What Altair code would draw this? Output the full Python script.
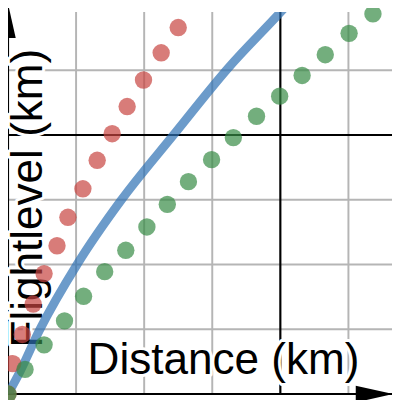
import altair as alt
import pandas as pd

# --- data (data units: 1 grid cell = 1 km) ---
red_x = [0.0, 0.07, 0.21, 0.37, 0.53, 0.72, 0.88, 1.10, 1.31, 1.53, 1.75, 1.99, 2.25, 2.50]
red_y = [0.0, 0.47, 0.92, 1.39, 1.86, 2.29, 2.73, 3.17, 3.61, 4.02, 4.44, 4.85, 5.27, 5.66]

green_x = [0.0, 0.25, 0.53, 0.83, 1.11, 1.42, 1.73, 2.04, 2.34, 2.65, 2.99, 3.31, 3.65, 3.99, 4.32, 4.66, 5.01, 5.36]
green_y = [0.0, 0.38, 0.76, 1.13, 1.51, 1.89, 2.22, 2.58, 2.93, 3.28, 3.62, 3.96, 4.29, 4.60, 4.92, 5.24, 5.57, 5.87]

blue_x = [0.0, 0.14, 0.46, 1.02, 1.66, 2.43, 3.23, 4.10, 4.30]
blue_y = [0.0, 0.27, 0.98, 2.01, 2.99, 4.00, 5.03, 6.01, 6.25]

x_minor = [1, 2, 3, 5]
x_major = [0, 4]
y_minor = [1, 2, 3, 5]
y_major = [0, 4]

x_title = "Distance (km)"
y_title = "Flightlevel (km)"

XS = alt.Scale(domain=[0, 5.64], nice=False, zero=False)
YS = alt.Scale(domain=[0, 5.9], nice=False, zero=False)
FONT = "Liberation Sans"

red = pd.DataFrame({"x": red_x, "y": red_y})
green = pd.DataFrame({"x": green_x, "y": green_y})
blue = pd.DataFrame({"x": blue_x, "y": blue_y, "o": list(range(len(blue_x)))})

xg_minor = alt.Chart(pd.DataFrame({"v": x_minor})).mark_rule(color="#b5b5b5", strokeWidth=2).encode(
    x=alt.X("v:Q", scale=XS, axis=None))
yg_minor = alt.Chart(pd.DataFrame({"v": y_minor})).mark_rule(color="#b5b5b5", strokeWidth=2).encode(
    y=alt.Y("v:Q", scale=YS, axis=None))
xg_major = alt.Chart(pd.DataFrame({"v": x_major})).mark_rule(color="black", strokeWidth=2.2).encode(
    x=alt.X("v:Q", scale=XS, axis=None))
yg_major = alt.Chart(pd.DataFrame({"v": y_major})).mark_rule(color="black", strokeWidth=2.2).encode(
    y=alt.Y("v:Q", scale=YS, axis=None))

def title_layers(txt, px, py, angle):
    halo = alt.Chart(pd.DataFrame({"t": [txt]})).mark_text(
        font=FONT, fontSize=45, align="center", baseline="alphabetic", angle=angle,
        fill="white", stroke="white", strokeWidth=6, strokeJoin="round"
    ).encode(x=alt.value(px), y=alt.value(py), text="t:N")
    txtl = alt.Chart(pd.DataFrame({"t": [txt]})).mark_text(
        font=FONT, fontSize=45, align="center", baseline="alphabetic", angle=angle, color="black"
    ).encode(x=alt.value(px), y=alt.value(py), text="t:N")
    return [halo, txtl]

xt = title_layers(x_title, 220, 370, 0)
yt = title_layers(y_title, 35, 190, 270)

arrow_up = alt.Chart(pd.DataFrame({"k": ["up"]})).mark_point(
    shape="M0,-1L0.45,1L-0.45,1Z", filled=True, color="black", opacity=1, size=1225
).encode(x=alt.value(0), y=alt.value(9))
arrow_right = alt.Chart(pd.DataFrame({"k": ["right"]})).mark_point(
    shape="M1,0L-1,-0.45L-1,0.45Z", filled=True, color="black", opacity=1, size=1444
).encode(x=alt.value(374), y=alt.value(390))

blue_line = alt.Chart(blue).mark_line(
    color="#2d70b3", opacity=0.7, strokeWidth=9, interpolate="monotone", clip=True
).encode(x=alt.X("x:Q", scale=XS, axis=None), y=alt.Y("y:Q", scale=YS, axis=None), order="o:Q")

red_pts = alt.Chart(red).mark_circle(color="#c74440", opacity=0.7, size=314).encode(
    x=alt.X("x:Q", scale=XS, axis=None), y=alt.Y("y:Q", scale=YS, axis=None))
green_pts = alt.Chart(green).mark_circle(color="#388c46", opacity=0.7, size=314).encode(
    x=alt.X("x:Q", scale=XS, axis=None), y=alt.Y("y:Q", scale=YS, axis=None))

chart = alt.layer(
    xg_minor, yg_minor, xg_major, yg_major,
    *xt, *yt,
    arrow_up, arrow_right,
    blue_line, red_pts, green_pts
).properties(
    width=392, height=390,
    padding={"left": 0, "top": 0, "right": 0, "bottom": 2},
    autosize=alt.AutoSizeParams(type="none"),
).configure_view(strokeWidth=0)

chart.save("out.html", embed_options={"renderer": "svg", "actions": False})
